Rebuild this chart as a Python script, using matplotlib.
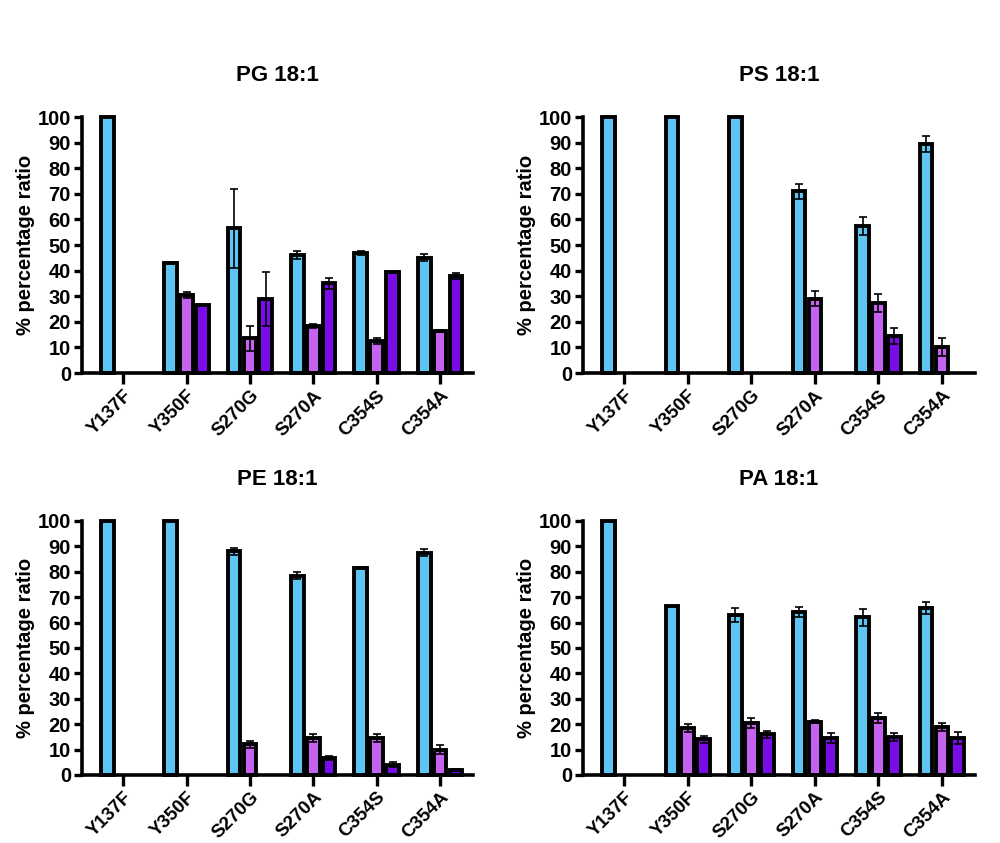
import numpy as np
import matplotlib
matplotlib.use("Agg")
import matplotlib.pyplot as plt

plt.rcParams['font.family'] = ['Liberation Sans', 'DejaVu Sans']
plt.rcParams['font.weight'] = 'bold'

mutants = ["Y137F", "Y350F", "S270G", "S270A", "C354S", "C354A"]
colors = ["#5EC4F2", "#C662F0", "#7A0CE8"]

# series values per panel (blue, light purple, dark purple); 0 = no bar
pg_blue = [100, 43, 56.5, 46, 47, 45]
pg_light = [0, 30.5, 13.5, 18.5, 12.5, 16.5]
pg_dark = [0, 26.5, 29, 35, 39.5, 37.8]
pg_blue_err = [0, 0.5, 15.5, 1.5, 0.8, 1.3]
pg_light_err = [0, 1.0, 5.0, 0.8, 1.0, 0.5]
pg_dark_err = [0, 0, 10.5, 2.0, 0, 1.2]

ps_blue = [100, 100, 100, 71, 57.5, 89.5]
ps_light = [0, 0, 0, 29, 27.5, 10]
ps_dark = [0, 0, 0, 0, 14.5, 0]
ps_blue_err = [0, 0, 0, 3.0, 3.5, 3.0]
ps_light_err = [0, 0, 0, 3.0, 3.5, 3.5]
ps_dark_err = [0, 0, 0, 0, 3.2, 0]

pe_blue = [100, 100, 88, 78.5, 81.5, 87.5]
pe_light = [0, 0, 12, 14.5, 14.5, 10]
pe_dark = [0, 0, 0, 6.5, 4, 2]
pe_blue_err = [0, 0, 1.3, 1.5, 0.5, 1.3]
pe_light_err = [0, 0, 1.5, 1.7, 1.7, 1.7]
pe_dark_err = [0, 0, 0, 0.8, 1.0, 0.5]

pa_blue = [100, 66.7, 63, 64, 62, 65.8]
pa_light = [0, 18.5, 20.5, 21, 22.5, 19]
pa_dark = [0, 14, 16, 14.5, 15, 14.5]
pa_blue_err = [0, 0, 2.8, 2.0, 3.5, 2.3]
pa_light_err = [0, 1.7, 2.0, 0.5, 2.0, 1.5]
pa_dark_err = [0, 1.5, 1.3, 2.0, 1.5, 2.3]

panels = [
    ("PG 18:1", [pg_blue, pg_light, pg_dark], [pg_blue_err, pg_light_err, pg_dark_err]),
    ("PS 18:1", [ps_blue, ps_light, ps_dark], [ps_blue_err, ps_light_err, ps_dark_err]),
    ("PE 18:1", [pe_blue, pe_light, pe_dark], [pe_blue_err, pe_light_err, pe_dark_err]),
    ("PA 18:1", [pa_blue, pa_light, pa_dark], [pa_blue_err, pa_light_err, pa_dark_err]),
]

rects = [
    [0.082, 0.5575, 0.391, 0.3037],
    [0.583, 0.5575, 0.392, 0.3037],
    [0.082, 0.0807, 0.391, 0.3013],
    [0.583, 0.0807, 0.392, 0.3013],
]

fig = plt.figure(figsize=(10, 8.43), dpi=100)
x = np.arange(len(mutants))
offsets = [-0.25, 0.0, 0.25]
width = 0.2

for (title, series, errs), rect in zip(panels, rects):
    ax = fig.add_axes(rect)
    for vals, err, off, c in zip(series, errs, offsets, colors):
        vals = np.array(vals, dtype=float)
        err = np.array(err, dtype=float)
        m = vals > 0
        ax.bar(x[m] + off, vals[m], width, color=c, edgecolor="black",
               linewidth=2.8, clip_on=False, zorder=2)
        e = m & (err > 0)
        ax.errorbar(x[e] + off, vals[e], yerr=err[e], fmt="none", ecolor="black",
                    elinewidth=1.2, capsize=3.2, capthick=1.2, zorder=3, clip_on=False)
    ax.set_xlim(-0.65, 5.52)
    ax.set_ylim(0, 100)
    ax.set_yticks(np.arange(0, 101, 10))
    ax.set_xticks(x)
    ax.set_xticklabels(mutants, rotation=45, ha="right", va="top",
                       rotation_mode="anchor")
    ax.tick_params(axis="y", length=6, width=2.4, labelsize=14.5, pad=2)
    ax.tick_params(axis="x", length=8, width=2.4, labelsize=13.5, pad=2)
    for s in ["top", "right"]:
        ax.spines[s].set_visible(False)
    for s in ["left", "bottom"]:
        ax.spines[s].set_linewidth(2.6)
    ax.set_ylabel("% percentage ratio", fontsize=14.5, fontweight="bold")
    ax.yaxis.set_label_coords(-0.12, 0.5)
    ax.set_title(title, fontsize=16, fontweight="bold", pad=26)

fig.savefig("out.png", dpi=100)
